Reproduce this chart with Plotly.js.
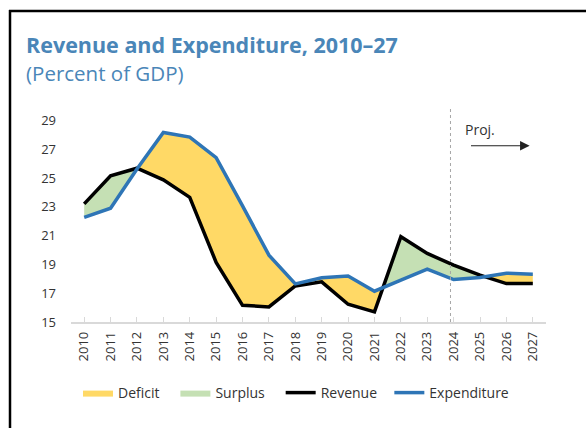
<!DOCTYPE html>
<html>
<head>
<meta charset="utf-8">
<script src="https://cdn.plot.ly/plotly-3.0.1.min.js"></script>
<style>
html,body{margin:0;padding:0;background:#fff;}
#chart{width:586px;height:428px;}
</style>
</head>
<body>
<div id="chart"></div>
<script>
// ---- data ----
const years = [2010,2011,2012,2013,2014,2015,2016,2017,2018,2019,2020,2021,2022,2023,2024,2025,2026,2027];
const yearLabels = years.map(String);
const revenue = [23.2,25.15,25.68,24.87,23.66,19.14,16.16,16.05,17.5,17.79,16.23,15.7,20.92,19.76,18.95,18.25,17.67,17.67];
const expenditure = [22.27,22.9,25.62,28.16,27.84,26.42,23.06,19.64,17.65,18.07,18.2,17.14,17.9,18.67,17.95,18.09,18.39,18.32];
const yTicks = [15,17,19,21,23,25,27,29];
const seriesNames = ['Deficit', 'Surplus', 'Revenue', 'Expenditure'];

// ---- insert crossing points so the fills follow the lines ----
const xs = [], rs = [], es = [];
for (let i = 0; i < years.length; i++) {
  xs.push(years[i]); rs.push(revenue[i]); es.push(expenditure[i]);
  if (i < years.length - 1) {
    const d0 = expenditure[i] - revenue[i];
    const d1 = expenditure[i+1] - revenue[i+1];
    if (d0 * d1 < 0) {
      const t = d0 / (d0 - d1);
      const yc = revenue[i] + t * (revenue[i+1] - revenue[i]);
      xs.push(years[i] + t * (years[i+1] - years[i])); rs.push(yc); es.push(yc);
    }
  }
}
const upper = rs.map((r, i) => Math.max(r, es[i]));

const font = 'Open Sans, Noto Sans, sans-serif';
const pad = n => '\u00a0'.repeat(n);
const traces = [
  {x: xs, y: rs, mode: 'lines', line: {width: 0}, showlegend: false, hoverinfo: 'skip'},
  {x: xs, y: upper, mode: 'lines', line: {width: 0}, fill: 'tonexty', fillcolor: '#FFD966', name: seriesNames[0] + pad(3)},
  {x: xs, y: es, mode: 'lines', line: {width: 0}, showlegend: false, hoverinfo: 'skip'},
  {x: xs, y: upper, mode: 'lines', line: {width: 0}, fill: 'tonexty', fillcolor: '#C5E0B4', name: seriesNames[1] + pad(3)},
  {x: years, y: revenue, mode: 'lines', line: {color: '#000000', width: 3.5}, name: seriesNames[2] + pad(2)},
  {x: years, y: expenditure, mode: 'lines', line: {color: '#2E75B6', width: 3.5}, name: seriesNames[3]}
];

const L = 71, R = 546, T = 106, B = 322;
const px2paperX = p => (p - L) / (R - L);
const px2paperY = p => (B - p) / (B - T);

const layout = {
  width: 586, height: 428,
  margin: {l: L, r: 586 - R, t: T, b: 428 - B},
  paper_bgcolor: '#ffffff', plot_bgcolor: '#ffffff',
  font: {family: font, size: 13, color: '#333333'},
  showlegend: true,
  legend: {orientation: 'h', x: px2paperX(78), xanchor: 'left', y: px2paperY(393), yanchor: 'middle',
           font: {size: 14, color: '#333333'}, itemwidth: 30, traceorder: 'normal', tracegroupgap: 0},
  xaxis: {
    type: 'linear', range: [2009.5, 2027.5], tickmode: 'array', tickvals: years, ticktext: yearLabels,
    tickangle: -90, showgrid: false, zeroline: false, showline: true, linecolor: '#D9D9D9', linewidth: 1.5,
    ticks: 'inside', ticklen: 5, tickcolor: '#D9D9D9', tickwidth: 1, ticklabelstandoff: 3,
    tickfont: {size: 13, color: '#333333'}, fixedrange: true
  },
  yaxis: {
    range: [15, 30], tickmode: 'array', tickvals: yTicks, showgrid: false, zeroline: false, showline: false,
    ticks: '', ticklabelstandoff: 14, tickfont: {size: 13, color: '#333333'}, fixedrange: true
  },
  shapes: [
    {type: 'line', xref: 'x', yref: 'y', x0: 2023.88, x1: 2023.88, y0: 15, y1: 30,
     line: {color: '#A6A6A6', width: 1, dash: 'dot'}},
    {type: 'line', xref: 'paper', yref: 'paper', x0: px2paperX(10), x1: px2paperX(10), y0: px2paperY(10), y1: px2paperY(430),
     line: {color: '#000000', width: 2.5}},
    {type: 'line', xref: 'paper', yref: 'paper', x0: px2paperX(9), x1: px2paperX(590), y0: px2paperY(11), y1: px2paperY(11),
     line: {color: '#000000', width: 2.5}}
  ],
  annotations: [
    {xref: 'paper', yref: 'paper', x: px2paperX(24), y: px2paperY(44), xanchor: 'left', yanchor: 'middle',
     text: '<b>Revenue and Expenditure, 2010–27</b>', showarrow: false,
     font: {family: font, size: 21.5, color: '#4A86B8'}},
    {xref: 'paper', yref: 'paper', x: px2paperX(24), y: px2paperY(73), xanchor: 'left', yanchor: 'middle',
     text: '(Percent of GDP)', showarrow: false,
     font: {family: font, size: 20.5, color: '#4A86B8'}},
    {xref: 'x', yref: 'y', x: 2025.0, y: 28.4, text: 'Proj.', showarrow: false,
     font: {family: font, size: 14, color: '#333333'}},
    {xref: 'x', yref: 'y', axref: 'x', ayref: 'y', x: 2026.88, y: 27.24, ax: 2024.6, ay: 27.24,
     text: '', showarrow: true, arrowhead: 2, arrowsize: 1.6, arrowwidth: 1.2, arrowcolor: '#222222'}
  ]
};

Plotly.newPlot('chart', traces, layout, {displayModeBar: false, staticPlot: true});
</script>
</body>
</html>
